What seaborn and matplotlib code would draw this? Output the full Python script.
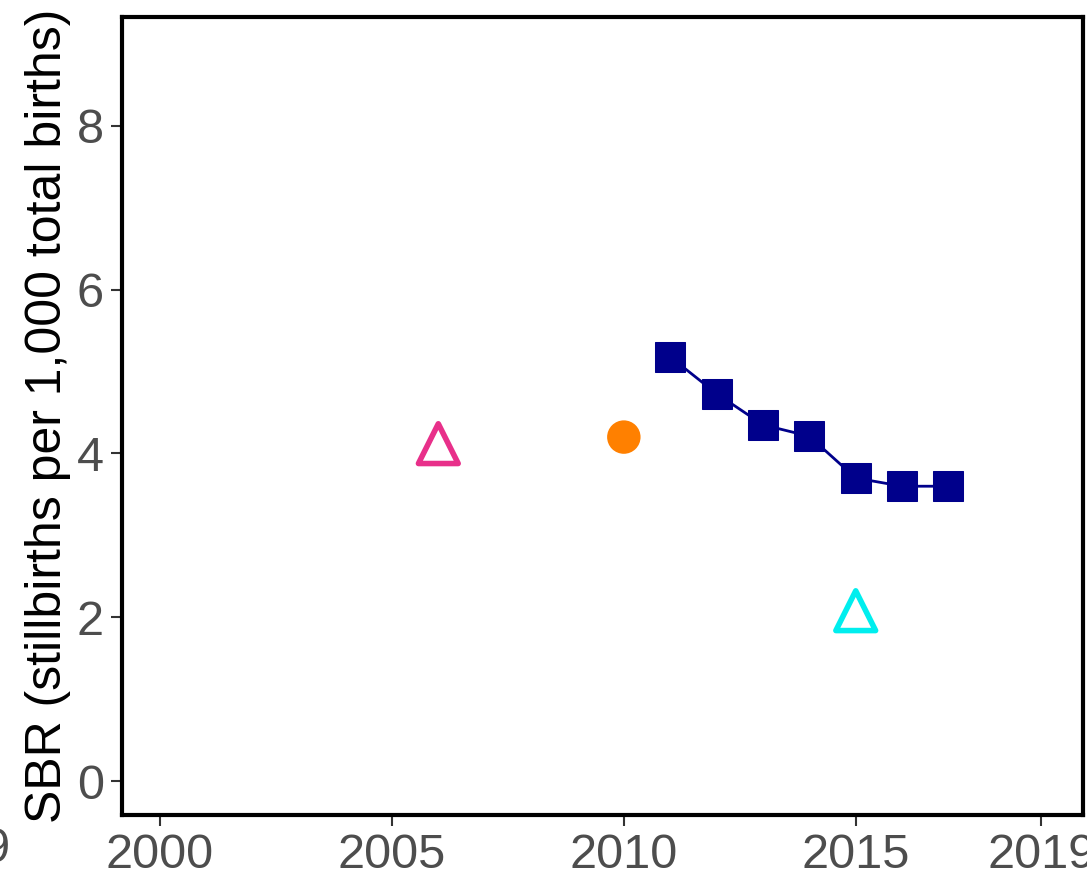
import numpy as np
import pandas as pd
import matplotlib
matplotlib.use("Agg")
import matplotlib.pyplot as plt
import seaborn as sns

# Data
admin_years = [2011, 2012, 2013, 2014, 2015, 2016, 2017]
admin_sbr = [5.18, 4.73, 4.35, 4.21, 3.70, 3.60, 3.60]

survey_year = [2010]
survey_sbr = [4.20]

study_a_year = [2006]
study_a_sbr = [4.12]

study_b_year = [2015]
study_b_sbr = [2.08]

x_ticks = [2000, 2005, 2010, 2015, 2019]
y_ticks = [0, 2, 4, 6, 8]

sns.set_style("white")
plt.rcParams['font.family'] = ['Liberation Sans', 'DejaVu Sans']

fig = plt.figure(figsize=(10.87, 8.77), dpi=100)
ax = fig.add_axes([122 / 1087, 62 / 877, 961 / 1087, 798 / 877])

admin = pd.DataFrame({'year': admin_years, 'sbr': admin_sbr})
sns.lineplot(data=admin, x='year', y='sbr', ax=ax, color='#00008B', lw=2,
             marker='s', markersize=21, markeredgecolor='#00008B', markerfacecolor='#00008B')

sns.scatterplot(x=survey_year, y=survey_sbr, ax=ax, color='#FF8000', s=580,
                marker='o', edgecolor='none', zorder=3)
sns.scatterplot(x=study_a_year, y=study_a_sbr, ax=ax, marker='^', s=820,
                facecolor='none', edgecolor='#E8308A', linewidth=4, zorder=3)
sns.scatterplot(x=study_b_year, y=study_b_sbr, ax=ax, marker='^', s=820,
                facecolor='none', edgecolor='#00EEEE', linewidth=4, zorder=3)

ax.set_xlim(1999.18, 2019.9)
ax.set_ylim(-0.415, 9.33)
ax.set_xticks(x_ticks)
ax.set_yticks(y_ticks)
ax.tick_params(axis='both', direction='out', length=8, width=1.5, color='#333333',
               labelsize=35, labelcolor='#4D4D4D', pad=5, left=True, bottom=True)
for sp in ax.spines.values():
    sp.set_visible(True)
    sp.set_color('black')
    sp.set_linewidth(3)

ax.set_xlabel('')
ax.set_ylabel('SBR (stillbirths per 1,000 total births)', fontsize=36, color='black', labelpad=4)
ax.grid(False)

# partially cropped tick label at the left edge
fig.text(-98, 877 - 850, '1999', transform=None, fontsize=35, color='#4D4D4D',
         ha='left', va='center')

fig.savefig('out.png', dpi=100)
